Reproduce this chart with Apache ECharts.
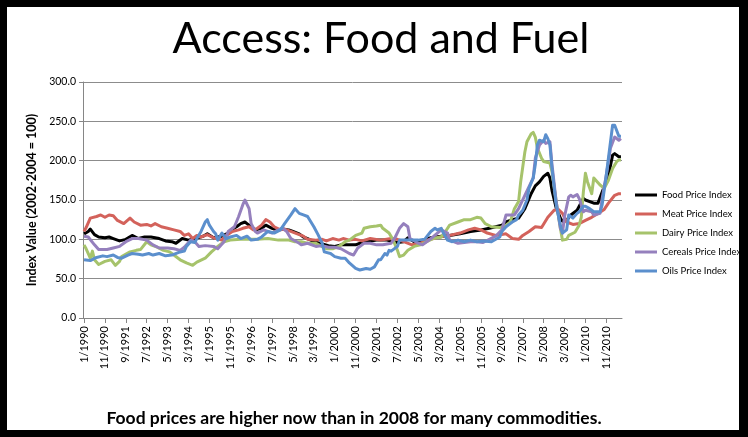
<!DOCTYPE html>
<html>
<head>
<meta charset="utf-8">
<script src="https://cdn.jsdelivr.net/npm/echarts@6/dist/echarts.min.js"></script>
<style>
  html, body { margin: 0; padding: 0; background: #000; }
  #frame { position: absolute; left: 7px; top: 7px; width: 732px; height: 423px; background: #fff; }
  #chart { position: absolute; left: 0; top: 0; width: 748px; height: 437px; }
</style>
</head>
<body>
<div id="frame"></div>
<div id="chart"></div>
<script>
// Month categories 1/1990 .. 6/2011 (tick labels every 10 months)
const months = [];
for (let y = 1990; y <= 2011; y++) {
  for (let m = 1; m <= 12; m++) {
    if (y === 2011 && m > 6) break;
    months.push(m + '/' + y);
  }
}
const yTicks = [0, 50, 100, 150, 200, 250, 300];
const seriesNames = ['Food Price Index', 'Meat Price Index', 'Dairy Price Index', 'Cereals Price Index', 'Oils Price Index'];

// [month index from 1/1990, index value]
const food = [[0,107],[2,110],[3,113],[5,106],[7,103],[10,102],[12,103],[14,101],[17,98],[20,100],[23,105],[26,101],[29,103],[32,103],[36,101],[39,98],[42,97],[44,95],[47,101],[50,99],[53,101],[57,104],[59,107],[62,102],[66,104],[69,108],[71,113],[73,116],[75,120],[77,122],[78,120],[80,116],[82,112],[85,114],[87,118],[90,114],[92,112],[95,113],[98,112],[100,110],[103,107],[105,103],[107,101],[110,97],[114,94],[117,92],[120,91],[123,93],[127,93],[130,93],[133,96],[140,99],[145,99],[150,96],[153,97],[155,102],[158,97],[161,98],[166,102],[171,104],[175,105],[180,107],[185,110],[190,112],[194,114],[197,116],[200,118],[202,122],[205,125],[208,127],[211,139],[214,158],[216,168],[218,173],[220,180],[222,184],[223,178],[224,162],[226,140],[228,127],[229,123],[231,124],[233,131],[236,137],[239,152],[240,150],[244,146],[246,146],[248,160],[251,181],[253,207],[254,209],[256,205],[257,205]];

const meat = [[0,110],[1,115],[3,127],[6,129],[8,131],[10,128],[12,131],[14,130],[16,124],[19,120],[22,127],[24,122],[27,118],[30,119],[32,117],[34,120],[37,116],[40,114],[43,112],[46,110],[48,105],[50,107],[52,101],[54,105],[56,103],[59,106],[62,102],[66,99],[67,103],[71,110],[74,112],[76,114],[79,116],[81,112],[83,114],[85,118],[87,125],[89,122],[91,116],[94,112],[96,113],[99,110],[103,106],[105,104],[107,100],[111,99],[114,100],[116,98],[119,101],[122,99],[124,101],[127,99],[130,100],[133,98],[137,101],[142,99],[147,101],[150,100],[153,97],[157,93],[161,95],[164,99],[169,102],[172,104],[175,105],[180,108],[184,112],[187,114],[190,112],[193,108],[197,105],[202,107],[205,101],[208,100],[210,105],[213,110],[216,116],[219,115],[222,128],[225,137],[227,138],[229,133],[231,122],[234,119],[237,120],[240,124],[243,128],[246,133],[249,138],[251,146],[254,156],[256,158],[257,158]];

const dairy = [[0,93],[1,88],[3,76],[4,85],[5,74],[7,68],[10,72],[13,74],[15,67],[17,72],[18,78],[22,84],[25,86],[27,87],[30,97],[32,93],[35,90],[38,86],[41,84],[43,80],[46,74],[49,70],[52,67],[54,71],[58,76],[61,84],[64,91],[67,97],[70,99],[75,100],[79,100],[83,100],[88,101],[93,99],[98,99],[101,97],[104,97],[107,95],[111,95],[113,92],[116,88],[119,88],[122,91],[125,97],[127,99],[130,105],[133,108],[134,114],[137,116],[140,117],[142,118],[143,114],[146,108],[148,99],[150,86],[151,78],[153,80],[155,86],[158,91],[161,93],[164,97],[167,101],[171,103],[173,110],[175,118],[179,122],[182,125],[185,125],[188,128],[190,127],[192,120],[195,116],[199,115],[202,118],[204,122],[206,139],[208,148],[209,173],[211,211],[212,224],[214,234],[215,236],[216,230],[217,216],[219,203],[220,199],[223,197],[224,186],[226,148],[228,114],[229,99],[231,100],[232,105],[235,109],[237,118],[238,128],[239,160],[240,184],[241,173],[243,158],[244,178],[247,169],[249,165],[251,175],[253,190],[255,199],[256,201],[257,201]];

const cereals = [[0,104],[2,103],[5,93],[7,87],[11,87],[14,89],[17,91],[20,97],[23,101],[26,101],[30,99],[33,93],[36,89],[40,89],[43,88],[46,86],[48,90],[51,99],[53,97],[55,91],[58,92],[62,91],[64,88],[67,97],[69,110],[72,116],[74,129],[76,144],[77,150],[79,139],[80,120],[82,110],[83,108],[86,112],[88,110],[90,108],[93,112],[95,114],[97,110],[99,101],[103,95],[104,93],[107,95],[111,91],[114,92],[117,90],[120,90],[123,88],[127,82],[129,80],[131,89],[134,95],[137,95],[140,93],[143,93],[147,95],[149,103],[151,114],[153,120],[155,116],[156,101],[160,95],[162,93],[164,97],[167,103],[171,112],[174,108],[175,99],[179,95],[182,96],[185,97],[188,97],[191,96],[194,100],[197,104],[200,112],[202,131],[204,131],[206,131],[208,139],[211,156],[215,178],[216,203],[218,220],[220,226],[221,222],[223,224],[224,195],[226,148],[228,114],[229,108],[230,129],[232,154],[233,156],[234,154],[236,157],[237,152],[239,135],[240,137],[243,135],[244,131],[247,133],[248,152],[250,182],[252,216],[254,230],[256,226],[257,228]];

const oils = [[0,74],[3,73],[6,77],[9,79],[11,78],[14,80],[16,77],[18,76],[21,80],[23,82],[26,81],[28,80],[31,82],[33,80],[36,82],[39,79],[42,80],[46,84],[48,85],[49,91],[51,97],[53,96],[54,101],[56,110],[58,122],[59,125],[60,118],[62,110],[63,107],[64,99],[66,108],[68,101],[70,103],[73,105],[75,101],[78,104],[80,99],[83,100],[85,103],[88,110],[91,108],[94,112],[96,120],[99,131],[101,139],[103,133],[105,131],[107,129],[110,116],[112,106],[114,95],[115,84],[118,82],[120,78],[123,76],[125,76],[127,70],[130,63],[132,61],[135,63],[137,62],[139,65],[141,74],[142,74],[144,82],[145,80],[146,86],[147,85],[150,91],[151,99],[155,99],[160,99],[163,100],[166,110],[168,114],[169,112],[171,114],[172,108],[174,99],[176,97],[179,99],[182,97],[185,99],[188,97],[191,98],[195,97],[199,103],[200,110],[202,116],[204,120],[205,122],[207,125],[208,131],[210,137],[212,150],[213,165],[215,178],[216,195],[217,220],[218,226],[220,224],[221,233],[222,228],[223,220],[224,190],[226,144],[228,118],[229,108],[231,112],[232,131],[234,127],[236,133],[237,135],[239,142],[240,142],[242,139],[244,135],[247,135],[248,144],[250,182],[252,224],[253,245],[254,245],[256,231],[257,231]];

const seriesData = [food, meat, dairy, cereals, oils];
const colors = ['#000000', '#D3625B', '#A6C36B', '#9580BD', '#5B8FCD'];

const chart = echarts.init(document.getElementById('chart'), null, { renderer: 'canvas' });
const FONT = 'Lato, "Open Sans", sans-serif';

chart.setOption({
  backgroundColor: 'transparent',
  animation: false,
  textStyle: { fontFamily: FONT },
  graphic: [
    { type: 'text', style: { x: 381, y: 39, text: 'Access: Food and Fuel', textAlign: 'center', textVerticalAlign: 'middle', font: 'normal 43px ' + FONT, fill: '#000' } },
    { type: 'text', style: { x: 354, y: 418, text: 'Food prices are higher now than in 2008 for many commodities.', textAlign: 'center', textVerticalAlign: 'middle', font: 'bold 17.5px ' + FONT, fill: '#000' } }
  ],
  grid: { left: 83, top: 82, width: 539, height: 236, containLabel: false },
  legend: {
    orient: 'vertical', left: 630, top: 184, itemWidth: 22, itemHeight: 3, itemGap: 7,
    icon: 'rect',
    data: seriesNames,
    textStyle: { fontFamily: FONT, fontSize: 9.5, color: '#000', lineHeight: 12 }
  },
  xAxis: {
    type: 'category', data: months, boundaryGap: true,
    axisLine: { lineStyle: { color: '#868686', width: 1 } },
    axisTick: { show: true, interval: 9, alignWithLabel: true, length: 5, lineStyle: { color: '#868686' } },
    axisLabel: { interval: 9, rotate: 90, margin: 8, fontSize: 11, color: '#000', fontFamily: FONT },
    splitLine: { show: false }
  },
  yAxis: {
    type: 'value', min: 0, max: 300, interval: 50,
    name: 'Index Value (2002-2004 = 100)', nameLocation: 'middle', nameGap: 38,
    nameTextStyle: { fontFamily: FONT, fontWeight: 'bold', fontSize: 12.5, color: '#000' },
    axisLine: { show: true, lineStyle: { color: '#868686' } },
    axisTick: { show: true, length: 4, lineStyle: { color: '#868686' } },
    axisLabel: { margin: 7, fontSize: 10.5, color: '#000', fontFamily: FONT, formatter: v => yTicks.includes(v) ? v.toFixed(1) : '' },
    splitLine: { lineStyle: { color: '#8c8c8c', width: 1 } }
  },
  series: seriesNames.map((n, i) => ({
    name: n, type: 'line', data: seriesData[i], showSymbol: false, symbol: 'none',
    lineStyle: { width: 3, color: colors[i], join: 'round' }, itemStyle: { color: colors[i] },
    z: 2 + i
  }))
});
</script>
</body>
</html>
